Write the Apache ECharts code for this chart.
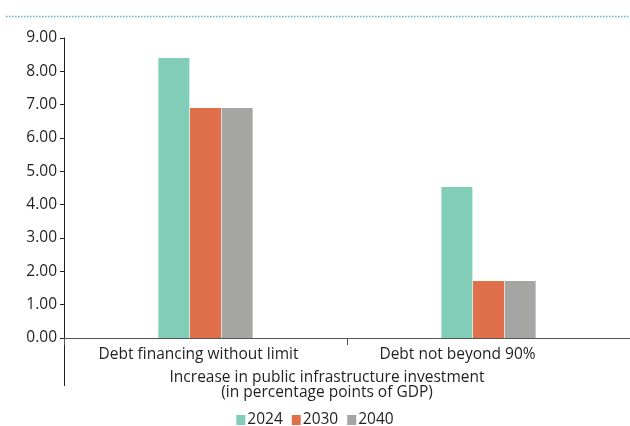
<!DOCTYPE html>
<html>
<head>
<meta charset="utf-8">
<script src="https://cdn.jsdelivr.net/npm/echarts@6/dist/echarts.min.js"></script>
<style>
  html, body { margin: 0; padding: 0; background: #fff; }
  #chart { width: 630px; height: 426px; }
</style>
</head>
<body>
<div id="chart"></div>
<script>
// data
const categories = ['Debt financing without limit', 'Debt not beyond 90%'];
const seriesNames = ['2024', '2030', '2040'];
const values2024 = [8.4, 4.53];
const values2030 = [6.9, 1.71];
const values2040 = [6.9, 1.71];
const colors = ['#82cdb8', '#e0704a', '#a5a5a4'];

const chart = echarts.init(document.getElementById('chart'));
const font = '"Open Sans", sans-serif';

const option = {
    animation: false,
    textStyle: { fontFamily: font, color: '#231f20' },
    grid: { left: 64, right: 0, top: 38, bottom: 88 },
    legend: {
        data: seriesNames,
        top: 407,
        left: 'center',
        itemWidth: 9,
        itemHeight: 10,
        itemGap: 9,
        icon: 'rect',
        textStyle: { fontSize: 15.5, color: '#231f20', fontFamily: font, padding: [0, 0, 0, -3] }
    },
    xAxis: {
        type: 'category',
        data: categories,
        name: 'Increase in public infrastructure investment\n(in percentage points of GDP)',
        nameLocation: 'middle',
        nameGap: 32,
        nameTextStyle: { fontSize: 15.5, color: '#231f20', lineHeight: 15, padding: [0, 40, 0, 0], fontFamily: font },
        axisLine: { lineStyle: { color: '#555', width: 1 } },
        axisTick: { show: true, interval: 0, length: 7, lineStyle: { color: '#555' } },
        axisLabel: {
            interval: 0,
            hideOverlap: false,
            margin: 9,
            fontSize: 15.5,
            color: '#231f20',
            formatter: function (v, i) {
                return i === 0 ? '{a|' + v + '}' : '{b|' + v + '}';
            },
            rich: {
                a: { fontSize: 15.5, fontFamily: font, color: '#231f20', padding: [0, 14, 0, 0] },
                b: { fontSize: 15.5, fontFamily: font, color: '#231f20', padding: [0, 62, 0, 0] }
            }
        }
    },
    yAxis: {
        type: 'value',
        min: 0,
        max: 9,
        interval: 1,
        axisLine: { show: true, lineStyle: { color: '#231f20', width: 1 } },
        axisTick: { show: true, length: 4, lineStyle: { color: '#231f20' } },
        splitLine: { show: false },
        axisLabel: {
            fontSize: 15.5,
            color: '#231f20',
            margin: 7,
            formatter: v => v.toFixed(2)
        }
    },
    series: [
        { name: seriesNames[0], type: 'bar', data: values2024, barWidth: 31, barGap: '2%', itemStyle: { color: colors[0] } },
        { name: seriesNames[1], type: 'bar', data: values2030, barWidth: 31, barGap: '2%', itemStyle: { color: colors[1] } },
        { name: seriesNames[2], type: 'bar', data: values2040, barWidth: 31, barGap: '2%', itemStyle: { color: colors[2] } }
    ]
};

chart.setOption(option);

// dotted rule under the (cropped) heading and the group separator below the axis
const origin = chart.convertToPixel({ gridIndex: 0 }, [0, 0]);
const axisX = chart.getModel().getComponent('grid').coordinateSystem.getRect().x;
chart.setOption({
    graphic: [
        {
            type: 'line',
            shape: { x1: 6, y1: 16.5, x2: 630, y2: 16.5 },
            style: { stroke: '#5ab4d2', lineWidth: 1.5, lineDash: [1.5, 1.5] }
        },
        {
            type: 'line',
            shape: { x1: axisX + 0.5, y1: origin[1], x2: axisX + 0.5, y2: origin[1] + 48 },
            style: { stroke: '#231f20', lineWidth: 1 }
        }
    ]
});
</script>
</body>
</html>
